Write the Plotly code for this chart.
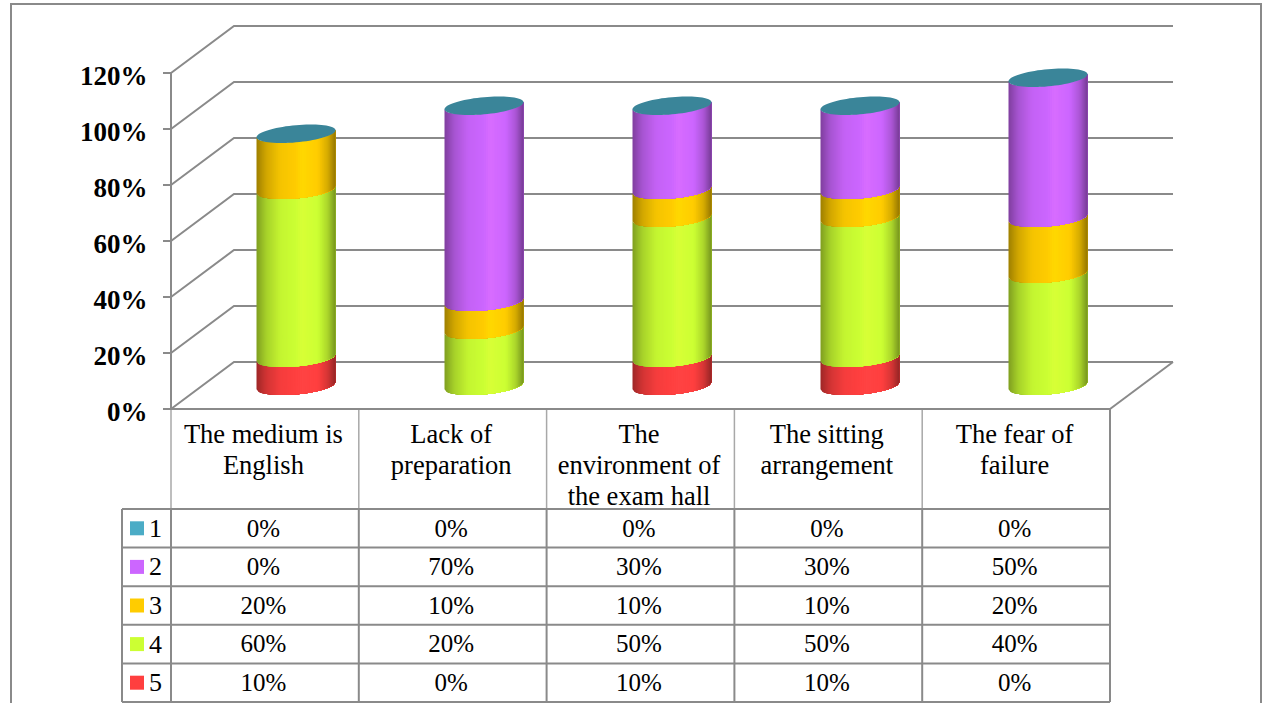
import math
import plotly.graph_objects as go

# Chart data
categories = [
    ["The medium is", "English"],
    ["Lack of", "preparation"],
    ["The", "environment of", "the exam hall"],
    ["The sitting", "arrangement"],
    ["The fear of", "failure"],
]
series_names = ["1", "2", "3", "4", "5"]
series_1 = [0, 0, 0, 0, 0]
series_2 = [0, 70, 30, 30, 50]
series_3 = [20, 10, 10, 10, 20]
series_4 = [60, 20, 50, 50, 40]
series_5 = [10, 0, 10, 10, 0]
series_values = [series_1, series_2, series_3, series_4, series_5]
axis_ticks = [0, 20, 40, 60, 80, 100, 120]

swatch_colors = ["#4BACC6", "#CC66FF", "#FFCC00", "#CCFF33", "#FF3F3F"]
cap_color = "#3A8599"
line_color = "#8A8A8A"

WIDTH, HEIGHT = 1264, 703

# One scale covers the whole page: one category step and 1% each map to fixed pixels
STEP_PX = 188.0
FIRST_PX = 296.0
PCT_PX = 2.8
BASE_PX = 409.0


def to_x(px):
    return (px - FIRST_PX) / STEP_PX


def to_y(py):
    return (BASE_PX - py) / PCT_PX


# Cylinder geometry in axis units
RADIUS = 39.5 / STEP_PX
ELLIPSE = 8.6 / PCT_PX
SKEW = 3.5 / PCT_PX
FLOOR = 8.3
WALL_DX = 63 / STEP_PX
WALL_DY = 47 / PCT_PX
STRIPS = 40


def shade_factor(u):
    stops = [(-1, .62), (-.75, .82), (-.4, .96), (0, 1.0), (.15, 1.06), (.55, 1.0),
             (.8, .84), (1, .58)]
    for (a, fa), (b, fb) in zip(stops, stops[1:]):
        if u <= b:
            return fa + (fb - fa) * (u - a) / (b - a)
    return stops[-1][1]


def shaded(hex_color, u):
    f = shade_factor(u)
    rgb = [int(hex_color[i:i + 2], 16) for i in (1, 3, 5)]
    return "rgb(%d,%d,%d)" % tuple(min(255, round(c * f)) for c in rgb)


def front_arc(u):
    """Height offset of the near rim of the tilted ellipse at horizontal position u."""
    return SKEW * u - ELLIPSE * math.sqrt(max(0.0, 1 - u * u))


fig = go.Figure()

# Back wall gridlines with their receding diagonals
left, right = to_x(171), to_x(1110)
gx, gy = [], []
for t in axis_ticks:
    gx += [left, left + WALL_DX, right + WALL_DX, None]
    gy += [t, t + WALL_DY, t + WALL_DY, None]
gx += [left, left, None, right, right + WALL_DX, None]
gy += [axis_ticks[0], axis_ticks[-1], None, 0, WALL_DY, None]
fig.add_trace(go.Scatter(x=gx, y=gy, mode="lines", hoverinfo="skip",
                         line=dict(color=line_color, width=2)))

# Stacked cylinders, from the bottom series upward. Each shade is painted from its
# left edge all the way to the right rim and the next shade overlaps it, so no
# seams appear between neighbouring shades.
grid = [-1 + 2 * k / STRIPS for k in range(STRIPS + 1)]
n_cats = len(categories)
bases = [FLOOR] * n_cats
for s in range(len(series_values) - 1, -1, -1):
    values = series_values[s]
    tops = [b + v for b, v in zip(bases, values)]
    for k in range(STRIPS):
        cells = grid[k:]
        xs, ys = [], []
        for c in range(n_cats):
            if values[c] <= 0:
                continue
            xs += [c + RADIUS * u for u in cells] + [c + RADIUS * u for u in reversed(cells)] + [None]
            ys += [bases[c] + front_arc(u) for u in cells]
            ys += [tops[c] + front_arc(u) for u in reversed(cells)] + [None]
        if xs:
            col = shaded(swatch_colors[s], (grid[k] + grid[k + 1]) / 2)
            fig.add_trace(go.Scatter(x=xs, y=ys, mode="none", fill="toself", fillcolor=col,
                                     hoverinfo="skip"))
    bases = tops

# Elliptical caps on top of each finished stack
cap_x, cap_y = [], []
for c in range(n_cats):
    for i in range(73):
        t = 2 * math.pi * i / 72
        cap_x.append(c + RADIUS * math.cos(t))
        cap_y.append(bases[c] + SKEW * math.cos(t) + ELLIPSE * math.sin(t))
    cap_x.append(None)
    cap_y.append(None)
fig.add_trace(go.Scatter(x=cap_x, y=cap_y, mode="none", fill="toself", fillcolor=cap_color,
                         hoverinfo="skip"))

# Data table under the plot
TABLE_LEFT, TABLE_RIGHT = 171.0, 1110.0
LEGEND_LEFT = 122.0
HEADER_BOTTOM = 509.0
ROW_PX = 38.6
COL_PX = (TABLE_RIGHT - TABLE_LEFT) / n_cats
n_rows = len(series_names)
row_edges = [HEADER_BOTTOM + ROW_PX * i for i in range(n_rows + 1)]

hx, hy = [], []
for i in range(n_cats):
    px = TABLE_LEFT + COL_PX * i
    hx += [to_x(px), to_x(px), None]
    hy += [to_y(BASE_PX), to_y(HEADER_BOTTOM), None]
fig.add_trace(go.Scatter(x=hx, y=hy, mode="lines", hoverinfo="skip",
                         line=dict(color="#A8A8A8", width=1.5)))

tx, ty = [], []
tx += [to_x(TABLE_LEFT), to_x(TABLE_RIGHT), to_x(TABLE_RIGHT), None]
ty += [to_y(BASE_PX), to_y(BASE_PX), to_y(row_edges[-1]), None]
for edge in row_edges:
    tx += [to_x(LEGEND_LEFT), to_x(TABLE_RIGHT), None]
    ty += [to_y(edge), to_y(edge), None]
tx += [to_x(LEGEND_LEFT), to_x(LEGEND_LEFT), None]
ty += [to_y(row_edges[0]), to_y(row_edges[-1]), None]
for i in range(n_cats):
    px = TABLE_LEFT + COL_PX * i
    tx += [to_x(px), to_x(px), None]
    ty += [to_y(row_edges[0]), to_y(row_edges[-1]), None]
fig.add_trace(go.Scatter(x=tx, y=ty, mode="lines", hoverinfo="skip",
                         line=dict(color=line_color, width=2)))

header_font = dict(family="Liberation Serif", size=26.5, color="#000000")
cell_font = dict(family="Liberation Serif", size=25, color="#000000")
key_font = dict(family="Liberation Serif", size=26, color="#000000")
tick_font = dict(family="Liberation Serif", size=27, color="#000000", weight=700)

# Value-axis labels, sitting just below their tick marks
fig.add_trace(go.Scatter(x=[to_x(147.5)] * len(axis_ticks),
                         y=[t - 5 / PCT_PX for t in axis_ticks],
                         text=["%d%%" % t for t in axis_ticks],
                         mode="text", textposition="middle left",
                         hoverinfo="skip", textfont=tick_font))

# Category header text, one point per line
lx, ly, lt = [], [], []
for c, lines in enumerate(categories):
    for j, line in enumerate(lines):
        lx.append(to_x(TABLE_LEFT + COL_PX * (c + 0.5) - 1.5))
        ly.append(to_y(436 + 31 * j))
        lt.append(line)
fig.add_trace(go.Scatter(x=lx, y=ly, text=lt, mode="text", textposition="middle center",
                         hoverinfo="skip", textfont=header_font))

# Value cells
vx, vy, vt = [], [], []
for r, values in enumerate(series_values):
    for c, v in enumerate(values):
        vx.append(to_x(TABLE_LEFT + COL_PX * (c + 0.5) - 1.5))
        vy.append(to_y(row_edges[r] + ROW_PX / 2 + 2))
        vt.append("%d%%" % v)
fig.add_trace(go.Scatter(x=vx, y=vy, text=vt, mode="text", textposition="middle center",
                         hoverinfo="skip", textfont=cell_font))

# Legend keys inside the table
swatch_y = [to_y(row_edges[r] + ROW_PX / 2) for r in range(n_rows)]
label_y = [to_y(row_edges[r] + ROW_PX / 2 + 2) for r in range(n_rows)]
fig.add_trace(go.Scatter(x=[to_x(137)] * n_rows, y=swatch_y, mode="markers", hoverinfo="skip",
                         marker=dict(symbol="square", size=14, color=swatch_colors,
                                     line=dict(width=0))))
fig.add_trace(go.Scatter(x=[to_x(149)] * n_rows, y=label_y, text=series_names, mode="text",
                         textposition="middle right", hoverinfo="skip", textfont=key_font))

fig.update_layout(
    width=WIDTH,
    height=HEIGHT,
    margin=dict(l=0, r=0, t=0, b=0),
    paper_bgcolor="#FFFFFF",
    plot_bgcolor="#FFFFFF",
    showlegend=False,
    xaxis=dict(visible=False, range=[to_x(0), to_x(WIDTH)], fixedrange=True),
    yaxis=dict(
        range=[to_y(HEIGHT), to_y(0)],
        anchor="free",
        position=171 / WIDTH,
        side="left",
        tickmode="array",
        tickvals=axis_ticks,
        showticklabels=False,
        ticks="outside",
        ticklen=8,
        tickwidth=2,
        tickcolor=line_color,
        showgrid=False,
        zeroline=False,
        showline=False,
        fixedrange=True,
    ),
    shapes=[
        dict(type="path", xref="paper", yref="paper",
             path="M %f,0 L %f,%f L %f,%f L %f,0" % (
                 11 / WIDTH, 11 / WIDTH, 1 - 4 / HEIGHT,
                 1261 / WIDTH, 1 - 4 / HEIGHT, 1261 / WIDTH),
             line=dict(color=line_color, width=2)),
    ],
)

fig.write_html("out.html", config=dict(displayModeBar=False))
